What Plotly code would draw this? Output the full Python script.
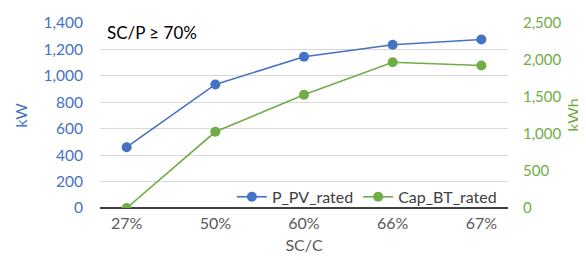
import plotly.graph_objects as go

categories = ["27%", "50%", "60%", "66%", "67%"]
p_pv_rated = [460, 935, 1145, 1235, 1275]
cap_bt_rated = [0, 1030, 1530, 1970, 1925]
left_ticks = [0, 200, 400, 600, 800, 1000, 1200, 1400]
right_ticks = [0, 500, 1000, 1500, 2000, 2500]

BLUE = "#4472C4"
GREEN = "#70AD47"
FONT = "Lato"

fig = go.Figure()
fig.add_trace(go.Scatter(x=categories, y=p_pv_rated, name="P_PV_rated",
                         mode="lines+markers", line=dict(color=BLUE, width=1.6),
                         marker=dict(size=10, color=BLUE)))
fig.add_trace(go.Scatter(x=categories, y=cap_bt_rated, name="Cap_BT_rated",
                         mode="lines+markers", line=dict(color=GREEN, width=1.6),
                         marker=dict(size=10, color=GREEN), yaxis="y2"))

fig.update_layout(
    width=586, height=260,
    margin=dict(l=92, r=86, t=15, b=60, autoexpand=False),
    paper_bgcolor="white", plot_bgcolor="white",
    font=dict(family=FONT, size=16, color="#595959"),
    showlegend=True,
    legend=dict(orientation="h", x=0.985, xanchor="right", y=0.06, yanchor="middle",
                bgcolor="rgba(255,255,255,0)", font=dict(size=16, color="#404040"),
                itemwidth=30, tracegroupgap=0),
    xaxis=dict(type="category", showgrid=False, ticks="", showline=False, automargin=False,
               title=dict(text="SC/C", font=dict(size=16, color="#595959"), standoff=8),
               tickfont=dict(size=16, color="#595959"), ticklabelstandoff=4),
    yaxis=dict(range=[0, 1400], tickvals=left_ticks, tickformat=",", automargin=False,
               showgrid=True, gridcolor="#d9d9d9", gridwidth=1,
               zeroline=True, zerolinecolor="#404040", zerolinewidth=2,
               tickfont=dict(size=15.5, color=BLUE), ticks="", ticklabelstandoff=16),
    yaxis2=dict(range=[0, 2500], tickvals=right_ticks, tickformat=",", automargin=False,
                overlaying="y", side="right", showgrid=False, zeroline=False,
                tickfont=dict(size=15, color=GREEN), ticks="", ticklabelstandoff=14),
    annotations=[
        dict(text="SC/P ≥ 70%", xref="paper", yref="paper", x=0.012, y=0.95,
             xanchor="left", yanchor="middle", showarrow=False,
             font=dict(size=17, color="#000000")),
        dict(text="kW", xref="paper", yref="paper", x=-0.196, y=0.5,
             xanchor="center", yanchor="middle", textangle=-90, showarrow=False,
             font=dict(size=16, color=BLUE)),
        dict(text="kWh", xref="paper", yref="paper", x=1.157, y=0.5,
             xanchor="center", yanchor="middle", textangle=-90, showarrow=False,
             font=dict(size=16, color=GREEN)),
    ],
)

fig.write_html("out.html")
